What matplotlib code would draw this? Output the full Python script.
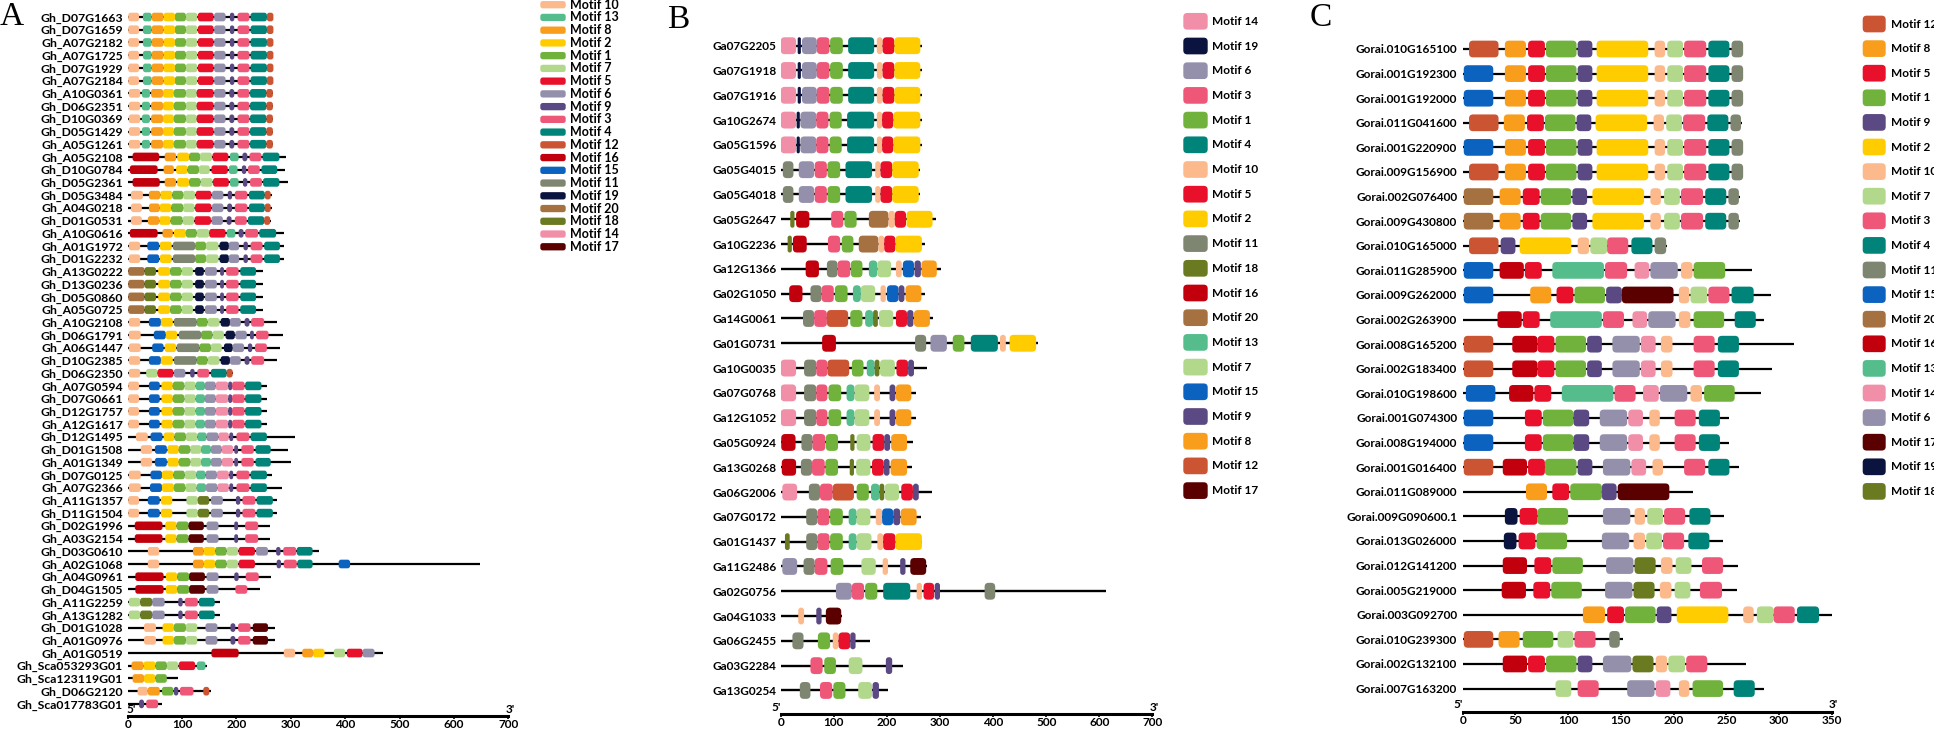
import matplotlib
matplotlib.use("Agg")
import matplotlib.pyplot as plt
from matplotlib.patches import FancyBboxPatch

W, H = 1934, 729
plt.rcParams['font.family'] = ['Lato', 'DejaVu Sans']
plt.rcParams['font.weight'] = 'bold'

MOTIF_COLORS = {
    1: "#70b23c", 2: "#ffcc00", 3: "#ef5779", 4: "#008479", 5: "#e8102a",
    6: "#9490ac", 7: "#b2d98b", 8: "#f99d1c", 9: "#5b4983", 10: "#fcb98b",
    11: "#7e8671", 12: "#cb5532", 13: "#55bd8c", 14: "#f28fa8", 15: "#0b62bf",
    16: "#c2000d", 17: "#5b0000", 18: "#6a7a20", 19: "#0b133f", 20: "#a57140",
}

# ---------------- panel A (G. hirsutum) ----------------
GENES_A = [
    "Gh_D07G1663", "Gh_D07G1659", "Gh_A07G2182", "Gh_A07G1725", "Gh_D07G1929",
    "Gh_A07G2184", "Gh_A10G0361", "Gh_D06G2351", "Gh_D10G0369", "Gh_D05G1429",
    "Gh_A05G1261", "Gh_A05G2108", "Gh_D10G0784", "Gh_D05G2361", "Gh_D05G3484",
    "Gh_A04G0218", "Gh_D01G0531", "Gh_A10G0616", "Gh_A01G1972", "Gh_D01G2232",
    "Gh_A13G0222", "Gh_D13G0236", "Gh_D05G0860", "Gh_A05G0725", "Gh_A10G2108",
    "Gh_D06G1791", "Gh_A06G1447", "Gh_D10G2385", "Gh_D06G2350", "Gh_A07G0594",
    "Gh_D07G0661", "Gh_D12G1757", "Gh_A12G1617", "Gh_D12G1495", "Gh_D01G1508",
    "Gh_A01G1349", "Gh_D07G0125", "Gh_A07G2366", "Gh_A11G1357", "Gh_D11G1504",
    "Gh_D02G1996", "Gh_A03G2154", "Gh_D03G0610", "Gh_A02G1068", "Gh_A04G0961",
    "Gh_D04G1505", "Gh_A11G2259", "Gh_A13G1282", "Gh_D01G1028", "Gh_A01G0976",
    "Gh_A01G0519", "Gh_Sca053293G01", "Gh_Sca123119G01", "Gh_D06G2120",
    "Gh_Sca017783G01",
]
LEN_A = [268] * 6 + [267] * 5 + [292, 290, 294, 265, 265, 263, 288, 287, 287,
         248, 248, 248, 248, 275, 285, 281, 275, 194, 256, 256, 256, 256, 307,
         294, 300, 265, 284, 275, 275, 261, 261, 352, 648, 263, 243, 169, 169,
         270, 270, 469, 145, 93, 154, 64]

a_top1 = [(10, 1, 21), (13, 28, 44), (8, 44, 66), (2, 66, 87), (1, 87, 107), (7, 107, 128),
          (5, 129, 158), (6, 159, 180), (9, 188, 196), (3, 202, 224), (4, 226, 256), (12, 256, 268)]
a_top2 = [(10, 2, 23), (13, 26, 41), (8, 43, 65), (2, 65, 85), (1, 85, 107), (7, 107, 127),
          (5, 127, 158), (6, 159, 180), (9, 187, 196), (3, 202, 224), (4, 225, 255), (12, 255, 267)]
a_1972 = [(10, 2, 23), (15, 36, 58), (2, 59, 81), (11, 83, 124), (1, 124, 144), (7, 144, 167),
          (19, 169, 186), (6, 186, 205), (9, 213, 221), (3, 226, 248), (4, 251, 280)]
a_0222 = [(20, 1, 31), (18, 31, 52), (2, 56, 78), (1, 78, 99), (7, 99, 120), (19, 124, 140),
          (6, 142, 164), (9, 170, 177), (3, 181, 204), (4, 207, 236)]
a_2108 = [(10, 2, 23), (15, 39, 61), (2, 61, 83), (11, 85, 127), (1, 127, 147), (7, 147, 169),
          (19, 171, 188), (6, 188, 208), (9, 215, 224), (3, 227, 251)]
a_0594 = [(10, 1, 21), (15, 39, 59), (2, 62, 83), (1, 83, 104), (7, 104, 125), (13, 125, 142),
          (6, 142, 162), (14, 162, 185), (9, 185, 192), (3, 192, 215), (4, 216, 246)]
a_1508 = [(10, 24, 45), (15, 50, 72), (2, 73, 94), (1, 94, 115), (7, 115, 135), (13, 135, 153),
          (6, 153, 173), (14, 173, 194), (9, 196, 203), (3, 209, 232), (4, 235, 263)]
a_1357 = [(10, 1, 21), (15, 37, 59), (2, 61, 82), (7, 108, 129), (18, 129, 150), (6, 153, 175),
          (9, 199, 207), (3, 211, 235), (4, 237, 267)]
a_1996 = [(16, 13, 64), (2, 69, 90), (1, 90, 112), (17, 112, 140), (6, 145, 167), (9, 196, 203),
          (3, 216, 240)]
a_2259 = [(7, 2, 23), (18, 23, 45), (6, 45, 68), (9, 93, 101), (3, 105, 129), (4, 131, 160)]
a_1028 = [(10, 30, 52), (2, 64, 85), (1, 85, 107), (7, 107, 128), (6, 143, 165), (9, 189, 198),
          (3, 203, 226), (17, 230, 258)]

MOTIFS_A = [a_top1] * 6 + [a_top2] * 5 + [
    [(16, 9, 58), (8, 68, 89), (2, 91, 113), (1, 113, 133), (7, 133, 155), (5, 156, 185),
     (13, 188, 204), (9, 211, 220), (3, 224, 246), (4, 248, 279)],
    [(16, 4, 55), (8, 66, 85), (2, 89, 110), (1, 110, 131), (7, 131, 151), (5, 154, 184),
     (13, 186, 202), (9, 210, 218), (3, 221, 243), (4, 246, 275)],
    [(16, 9, 59), (8, 68, 89), (2, 91, 113), (1, 113, 134), (7, 134, 156), (5, 157, 186),
     (13, 188, 204), (9, 212, 220), (3, 225, 247), (4, 249, 279)],
    [(10, 6, 28), (8, 39, 60), (2, 60, 82), (1, 82, 102), (7, 102, 124), (5, 125, 154),
     (6, 155, 176), (9, 184, 192), (3, 197, 220), (4, 223, 252), (12, 252, 263)],
    [(10, 6, 26), (8, 39, 59), (2, 59, 80), (1, 80, 102), (7, 102, 123), (5, 124, 154),
     (6, 155, 176), (9, 183, 192), (3, 197, 220), (4, 223, 252), (12, 252, 263)],
    [(10, 6, 26), (8, 37, 58), (2, 58, 79), (1, 79, 101), (7, 101, 122), (5, 123, 153),
     (6, 154, 175), (9, 182, 191), (3, 197, 219), (4, 221, 251), (12, 251, 262)],
    [(16, 4, 55), (8, 64, 83), (2, 85, 107), (1, 107, 127), (7, 127, 150), (5, 150, 180),
     (13, 182, 198), (9, 204, 213), (3, 216, 240), (4, 242, 273)],
    a_1972, a_1972, a_0222, a_0222, a_0222, a_0222, a_2108,
    [(10, 2, 24), (15, 48, 70), (2, 70, 91), (11, 94, 135), (1, 135, 156), (7, 156, 177),
     (19, 180, 197), (6, 198, 219), (9, 225, 232), (3, 236, 259)],
    [(10, 2, 24), (15, 45, 66), (2, 68, 89), (11, 90, 132), (1, 132, 153), (7, 153, 173),
     (19, 177, 193), (6, 193, 214), (9, 221, 229), (3, 234, 256)],
    a_2108,
    [(10, 2, 23), (7, 34, 55), (5, 55, 84), (6, 85, 106), (9, 115, 123), (3, 128, 150),
     (4, 153, 182), (12, 182, 193)],
    a_0594, a_0594, a_0594, a_0594,
    [(10, 15, 37), (15, 42, 64), (2, 66, 86), (1, 86, 107), (7, 107, 128), (13, 128, 145),
     (6, 145, 167), (14, 167, 186), (9, 187, 194), (3, 200, 224), (4, 226, 256)],
    a_1508, a_1508,
    [(10, 2, 24), (15, 42, 63), (2, 63, 84), (1, 84, 105), (7, 105, 126), (13, 126, 143),
     (6, 143, 164), (14, 164, 186), (9, 187, 194), (3, 200, 224), (4, 226, 256)],
    [(10, 2, 24), (15, 41, 63), (2, 63, 85), (1, 85, 106), (7, 106, 127), (13, 127, 144),
     (6, 144, 165), (14, 165, 186), (9, 187, 194), (3, 200, 224), (4, 226, 256)],
    a_1357, a_1357, a_1996, a_1996,
    [(10, 37, 58), (8, 120, 140), (2, 140, 161), (1, 161, 182), (7, 182, 203), (5, 204, 234),
     (6, 236, 258), (9, 273, 281), (3, 286, 310), (4, 311, 340)],
    [(10, 37, 58), (8, 120, 140), (2, 140, 161), (1, 161, 182), (7, 182, 203), (5, 204, 234),
     (9, 274, 282), (3, 287, 311), (4, 312, 340), (15, 388, 409)],
    [(16, 14, 66), (2, 70, 91), (1, 91, 113), (17, 113, 142), (6, 145, 167), (9, 196, 204),
     (3, 217, 241)],
    [(16, 14, 66), (2, 70, 91), (1, 91, 113), (17, 113, 142), (6, 145, 167), (3, 198, 220)],
    a_2259, a_2259, a_1028, a_1028,
    [(16, 154, 204), (10, 287, 308), (8, 321, 341), (2, 341, 362), (7, 379, 400), (5, 403, 432),
     (6, 432, 454)],
    [(8, 7, 29), (2, 29, 51), (1, 51, 72), (7, 72, 93), (5, 94, 124), (13, 127, 143)],
    [(8, 9, 30), (2, 30, 51), (1, 51, 72)],
    [(10, 18, 37), (8, 37, 59), (1, 63, 84), (9, 85, 93), (3, 96, 121), (12, 139, 150)],
    [(9, 21, 30), (3, 34, 56)],
]

# ---------------- panel B (G. arboreum) ----------------
GENES_B = [
    "Ga07G2205", "Ga07G1918", "Ga07G1916", "Ga10G2674", "Ga05G1596", "Ga05G4015",
    "Ga05G4018", "Ga05G2647", "Ga10G2236", "Ga12G1366", "Ga02G1050", "Ga14G0061",
    "Ga01G0731", "Ga10G0035", "Ga07G0768", "Ga12G1052", "Ga05G0924", "Ga13G0268",
    "Ga06G2006", "Ga07G0172", "Ga01G1437", "Ga11G2486", "Ga02G0756", "Ga04G1033",
    "Ga06G2455", "Ga03G2284", "Ga13G0254",
]
LEN_B = [267, 267, 267, 266, 266, 262, 262, 292, 272, 302, 272, 287, 484, 275, 254,
         254, 250, 248, 284, 264, 267, 275, 613, 115, 169, 230, 203]

b_2205 = [(14, 0, 29), (19, 32, 38), (6, 40, 68), (3, 68, 92), (1, 93, 117), (4, 127, 176),
          (10, 181, 192), (5, 192, 214), (2, 214, 263)]
b_2674 = [(14, 0, 29), (19, 30, 36), (6, 37, 67), (3, 67, 90), (1, 92, 115), (4, 125, 176),
          (10, 181, 191), (5, 191, 212), (2, 212, 263)]
b_4015 = [(11, 4, 24), (6, 34, 63), (3, 64, 87), (1, 88, 112), (4, 122, 172), (10, 178, 188),
          (5, 188, 210), (2, 210, 260)]
b_0768 = [(14, 0, 29), (11, 44, 67), (3, 67, 88), (1, 90, 114), (13, 124, 139), (7, 139, 167),
          (10, 176, 187), (9, 205, 216), (8, 217, 246)]

MOTIFS_B = [b_2205, b_2205, b_2205, b_2674, b_2674, b_4015, b_4015,
    [(18, 18, 26), (16, 29, 54), (3, 95, 118), (1, 120, 143), (20, 166, 203), (10, 203, 215),
     (5, 215, 236), (2, 237, 286)],
    [(18, 13, 21), (16, 23, 49), (3, 89, 112), (1, 115, 137), (20, 147, 184), (10, 184, 195),
     (5, 195, 216), (2, 216, 266)],
    [(16, 47, 72), (11, 87, 107), (3, 107, 131), (1, 132, 154), (13, 166, 182), (7, 182, 208),
     (10, 217, 228), (15, 230, 251), (9, 252, 264), (8, 265, 294)],
    [(16, 16, 41), (11, 56, 77), (3, 77, 100), (1, 102, 126), (13, 136, 151), (7, 151, 178),
     (10, 188, 198), (15, 200, 222), (9, 222, 233), (8, 235, 265)],
    [(11, 42, 63), (3, 63, 87), (12, 87, 127), (1, 131, 154), (13, 159, 174), (18, 174, 183),
     (7, 185, 212), (5, 217, 238), (9, 238, 250), (8, 251, 281)],
    [(16, 78, 104), (11, 253, 274), (6, 282, 313), (1, 324, 346), (4, 358, 409),
     (10, 413, 424), (2, 431, 481)],
    [(14, 0, 29), (11, 44, 67), (3, 67, 88), (12, 88, 129), (1, 134, 156), (13, 162, 177),
     (18, 177, 186), (7, 187, 215), (5, 218, 240), (9, 240, 251)],
    b_0768, b_0768,
    [(16, 1, 28), (11, 39, 60), (3, 60, 84), (1, 85, 108), (18, 131, 139), (7, 143, 169),
     (5, 173, 195), (9, 195, 206), (8, 208, 238)],
    [(16, 2, 29), (11, 38, 59), (3, 59, 83), (1, 84, 108), (18, 130, 138), (7, 142, 169),
     (5, 172, 194), (9, 194, 205), (8, 207, 238)],
    [(14, 3, 31), (11, 53, 74), (3, 74, 98), (12, 98, 138), (1, 143, 166), (13, 170, 186),
     (18, 186, 195), (7, 196, 223), (5, 227, 249), (9, 249, 260)],
    [(11, 48, 69), (3, 69, 92), (1, 93, 117), (13, 128, 143), (7, 143, 169), (10, 179, 191),
     (15, 191, 212), (9, 212, 225), (8, 226, 256)],
    [(18, 8, 17), (11, 48, 69), (3, 69, 92), (1, 93, 117), (13, 128, 143), (7, 143, 171),
     (10, 182, 193), (5, 193, 216), (2, 216, 266)],
    [(6, 3, 31), (11, 43, 64), (3, 64, 88), (1, 94, 118), (7, 152, 179), (10, 192, 202),
     (9, 225, 235), (17, 244, 274)],
    [(6, 104, 134), (3, 134, 157), (1, 159, 182), (4, 193, 244), (10, 256, 266), (5, 269, 289),
     (9, 290, 300), (11, 384, 404)],
    [(10, 33, 44), (9, 67, 77), (17, 85, 114)],
    [(11, 22, 43), (1, 70, 93), (10, 98, 109), (5, 109, 131), (9, 131, 141)],
    [(3, 56, 79), (1, 82, 104), (7, 128, 154), (9, 198, 210)],
    [(11, 36, 56), (3, 74, 97), (1, 99, 122), (7, 146, 172), (9, 173, 185)],
]

# ---------------- panel C (G. raimondii) ----------------
GENES_C = [
    "Gorai.010G165100", "Gorai.001G192300", "Gorai.001G192000", "Gorai.011G041600",
    "Gorai.001G220900", "Gorai.009G156900", "Gorai.002G076400", "Gorai.009G430800",
    "Gorai.010G165000", "Gorai.011G285900", "Gorai.009G262000", "Gorai.002G263900",
    "Gorai.008G165200", "Gorai.002G183400", "Gorai.010G198600", "Gorai.001G074300",
    "Gorai.008G194000", "Gorai.001G016400", "Gorai.011G089000", "Gorai.009G090600.1",
    "Gorai.013G026000", "Gorai.012G141200", "Gorai.005G219000", "Gorai.003G092700",
    "Gorai.010G239300", "Gorai.002G132100", "Gorai.007G163200",
]
LEN_C = [266, 266, 266, 265, 266, 266, 263, 263, 194, 274, 292, 286, 314, 293, 283,
         253, 253, 262, 218, 248, 247, 261, 260, 350, 152, 269, 286]

c_tail = [(8, 40, 60), (5, 62, 78), (1, 79, 108), (9, 109, 123), (2, 127, 176), (10, 182, 192),
          (7, 194, 209), (3, 210, 231), (4, 233, 253), (11, 255, 266)]
c_rust = [(12, 6, 34)] + c_tail
c_blue = [(15, 1, 29)] + c_tail
c_0764 = [(20, 1, 29), (8, 35, 55), (5, 57, 73), (1, 74, 103), (9, 104, 118), (2, 123, 172),
          (10, 178, 188), (7, 191, 206), (3, 207, 228), (4, 230, 250), (11, 252, 262)]
c_1652 = [(12, 1, 29), (16, 47, 71), (5, 71, 87), (1, 88, 117), (9, 118, 132), (6, 142, 168),
          (14, 169, 183), (10, 188, 199), (3, 219, 239), (4, 242, 262)]
c_0743 = [(15, 1, 29), (5, 59, 75), (1, 76, 105), (9, 105, 120), (6, 130, 156), (14, 157, 171),
          (10, 177, 187), (3, 201, 221), (4, 224, 244)]

MOTIFS_C = [c_rust, c_blue, c_blue,
    [(12, 6, 34), (8, 39, 59), (5, 61, 77), (1, 78, 107), (9, 108, 122), (2, 126, 175),
     (10, 181, 191), (7, 193, 208), (3, 209, 230), (4, 232, 252), (11, 254, 264)],
    c_blue, c_rust, c_0764, c_0764,
    [(12, 6, 34), (9, 36, 50), (2, 54, 103), (10, 109, 120), (7, 121, 137), (3, 137, 157),
     (4, 160, 180), (11, 182, 193)],
    [(15, 1, 29), (16, 35, 58), (5, 59, 75), (13, 85, 134), (3, 135, 156), (14, 163, 177),
     (6, 178, 204), (10, 207, 218), (1, 219, 249)],
    [(15, 1, 29), (8, 64, 84), (5, 89, 105), (1, 106, 135), (9, 136, 151), (17, 151, 200),
     (10, 205, 215), (7, 216, 232), (3, 233, 253), (4, 255, 276)],
    [(16, 33, 56), (5, 57, 73), (13, 83, 132), (3, 133, 153), (14, 161, 175), (6, 176, 202),
     (10, 205, 216), (1, 219, 248), (4, 258, 278)],
    c_1652, c_1652,
    [(15, 3, 31), (16, 44, 67), (5, 68, 84), (13, 94, 143), (3, 144, 164), (14, 171, 186),
     (6, 187, 213), (10, 216, 227), (1, 229, 258)],
    c_0743, c_0743,
    [(12, 1, 29), (16, 38, 61), (5, 62, 78), (1, 78, 108), (9, 109, 123), (6, 133, 159),
     (14, 160, 174), (10, 180, 190), (3, 210, 230), (4, 233, 253)],
    [(8, 60, 80), (5, 85, 101), (1, 102, 132), (9, 132, 146), (17, 147, 196)],
    [(19, 40, 52), (5, 54, 71), (1, 71, 100), (6, 133, 159), (10, 163, 173), (7, 175, 190),
     (3, 191, 211), (4, 215, 235)],
    [(19, 39, 51), (5, 53, 69), (1, 70, 99), (6, 132, 158), (10, 162, 173), (7, 174, 189),
     (3, 190, 210), (4, 214, 234)],
    [(16, 38, 61), (5, 68, 84), (1, 85, 114), (6, 136, 162), (18, 163, 183), (10, 188, 199),
     (7, 202, 217), (3, 227, 247)],
    [(16, 37, 60), (5, 67, 83), (1, 84, 113), (6, 135, 161), (18, 162, 182), (10, 187, 198),
     (7, 201, 216), (3, 225, 246)],
    [(8, 114, 135), (5, 137, 153), (1, 154, 183), (9, 184, 198), (2, 203, 252), (10, 266, 276),
     (7, 279, 295), (3, 295, 315), (4, 317, 338)],
    [(12, 1, 29), (8, 34, 54), (1, 57, 86), (7, 90, 105), (3, 106, 126), (11, 139, 149)],
    [(16, 38, 61), (5, 62, 78), (1, 79, 108), (9, 109, 123), (6, 133, 160), (18, 161, 181),
     (10, 183, 194), (7, 195, 211), (3, 212, 232)],
    [(7, 88, 103), (3, 109, 129), (6, 156, 182), (14, 183, 197), (10, 205, 215), (1, 218, 247),
     (4, 257, 277)],
]

LEGEND_A = [10, 13, 8, 2, 1, 7, 5, 6, 9, 3, 4, 12, 16, 15, 11, 19, 20, 18, 14, 17]
LEGEND_B = [14, 19, 6, 3, 1, 4, 10, 5, 2, 11, 18, 16, 20, 13, 7, 15, 9, 8, 12, 17]
LEGEND_C = [12, 8, 5, 1, 9, 2, 10, 7, 3, 4, 11, 15, 20, 16, 13, 14, 6, 17, 19, 18]


def px_axes(fig, x0, x1, ytop, ybot):
    return fig.add_axes([x0 / W, 1 - ybot / H, (x1 - x0) / W, (ybot - ytop) / H])


def draw_panel(ax, genes, lengths, motifs, xmax, step, ymax, wpx, hpx,
               rpx=4.0, lw=1.6, box_h=0.68, fs=8.5, tick_fs=8.5, lab_pad=3.5,
               five_ha="right"):
    ax.set_xlim(0, xmax)
    ax.set_ylim(ymax, -1)
    px_x = wpx / xmax
    px_y = hpx / (ymax + 1)
    asp = px_x / px_y
    for i, (L, mots) in enumerate(zip(lengths, motifs)):
        ax.plot([0, L], [i, i], color="black", lw=lw, solid_capstyle="butt", zorder=1)
        for m, s, e in mots:
            r = min(rpx / px_x, (e - s) / 2, box_h / 2 / asp)
            ax.add_patch(FancyBboxPatch(
                (s, i - box_h / 2), e - s, box_h,
                boxstyle=f"round,pad=0,rounding_size={r}", mutation_aspect=asp,
                fc=MOTIF_COLORS[m], ec="none", zorder=2))
    ax.set_yticks(range(len(genes)))
    ax.set_yticklabels(genes)
    ax.tick_params(axis="y", length=0, pad=lab_pad, labelsize=fs)
    ax.set_xticks(range(0, xmax + 1, step))
    ax.tick_params(axis="x", length=2, width=1.2, pad=0.5, labelsize=tick_fs)
    for side in ("top", "right", "left"):
        ax.spines[side].set_visible(False)
    ax.spines["bottom"].set_linewidth(2.2)
    ax.patch.set_visible(False)
    dx = 0 if five_ha == "right" else -1
    ax.annotate("5'", xy=(0, 0), xycoords=("data", "axes fraction"), xytext=(dx, 1),
                textcoords="offset points", ha=five_ha, va="bottom", fontsize=tick_fs)
    ax.annotate("3'", xy=(xmax, 0), xycoords=("data", "axes fraction"), xytext=(-2, 1),
                textcoords="offset points", ha="left", va="bottom", fontsize=tick_fs)


def draw_legend(lax, order, x0, y0, dy, bw, bh, rpx, gap, fs=8.5):
    for k, m in enumerate(order):
        y = y0 + k * dy
        lax.add_patch(FancyBboxPatch((x0, y - bh / 2), bw, bh,
                                     boxstyle=f"round,pad=0,rounding_size={rpx}",
                                     fc=MOTIF_COLORS[m], ec="none"))
        lax.text(x0 + bw + gap, y, f"Motif {m}", ha="left", va="center", fontsize=fs)


fig = plt.figure(figsize=(W / 100, H / 100), dpi=100)

# legends + panel letters live on a pixel-coordinate overlay
lax = fig.add_axes([0, 0, 1, 1])
lax.set_xlim(0, W)
lax.set_ylim(H, 0)
lax.axis("off")

axA = px_axes(fig, 127.7, 508.3, 4.3, 716)
draw_panel(axA, GENES_A, LEN_A, MOTIFS_A, 700, 100, 54.95, 380.6, 711.7,
           rpx=2.5, lw=1.6, fs=8.8, tick_fs=8.5, lab_pad=3.4, five_ha="left")
axB = px_axes(fig, 780.7, 1152.4, 20.9, 714)
draw_panel(axB, GENES_B, LEN_B, MOTIFS_B, 700, 100, 26.95, 371.7, 693.1,
           rpx=4.0, lw=1.7, fs=8.5, lab_pad=2.9)
axC = px_axes(fig, 1462.7, 1831.7, 24.4, 711.7)
draw_panel(axC, GENES_C, LEN_C, MOTIFS_C, 350, 50, 26.94, 369.0, 687.3,
           rpx=4.0, lw=1.6, fs=8.5, lab_pad=4.0)

draw_legend(lax, LEGEND_A, 540.3, 4.7, 12.74, 25.4, 7.3, 2.5, 4.3, fs=9.0)
draw_legend(lax, LEGEND_B, 1183.3, 21.3, 24.7, 24.4, 16.7, 4.0, 4.6, fs=8.5)
draw_legend(lax, LEGEND_C, 1862.7, 24.0, 24.6, 23.0, 16.7, 4.0, 5.0, fs=8.5)

for letter, (x, y) in zip("ABC", [(12, 17), (678, 20), (1321, 18)]):
    lax.text(x, y, letter, family="Liberation Serif", fontweight="normal",
             fontsize=24, ha="center", va="center")

fig.savefig("out.png", dpi=100)
plt.close(fig)
